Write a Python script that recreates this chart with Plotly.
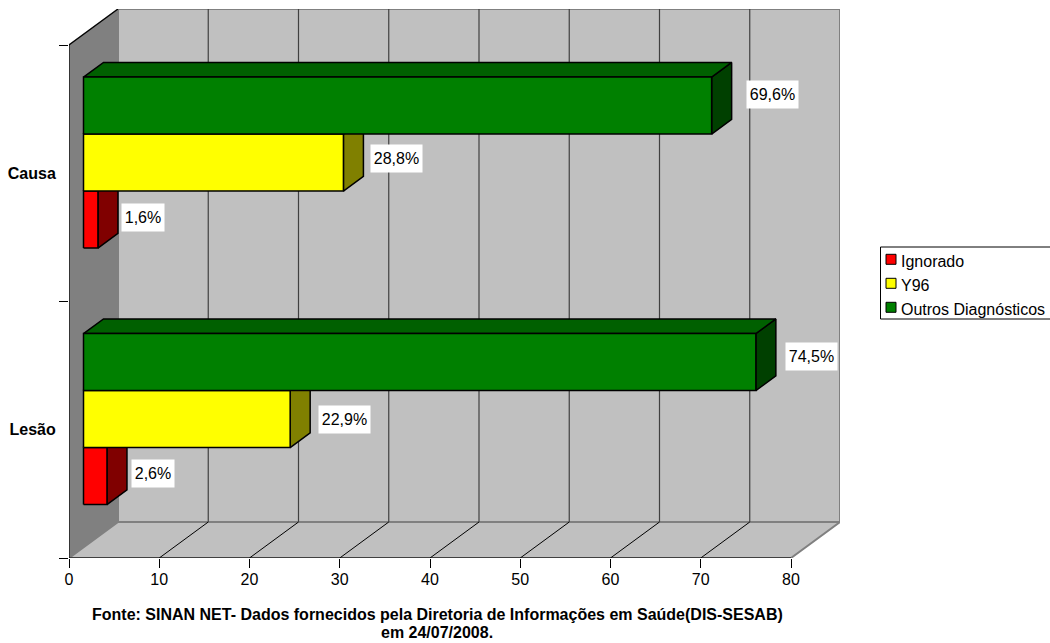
import plotly.graph_objects as go

# Chart data
categories = ["Lesão", "Causa"]
series_names = ["Ignorado", "Y96", "Outros Diagnósticos"]
ignorado = [2.6, 1.6]
y96 = [22.9, 28.8]
outros = [74.5, 69.6]
x_ticks = [0, 10, 20, 30, 40, 50, 60, 70, 80]
footer = [
    "Fonte: SINAN NET- Dados fornecidos pela Diretoria de Informações em Saúde(DIS-SESAB)",
    "em 24/07/2008.",
]

# Face colours per series: front, side, top
face_colors = [
    ("#FF0000", "#800000", "#A00000"),
    ("#FFFF00", "#808000", "#A0A000"),
    ("#008000", "#004000", "#006000"),
]

# Canvas and plot geometry
WIDTH, HEIGHT = 1050, 643
LEFT, RIGHT, TOP, BOTTOM = 69, 840, 9, 558
PX_X = 9.025    # pixels per x unit
PX_Y = 256.5    # pixels per category
DEPTH_X = (RIGHT - LEFT) / PX_X - 80
DEPTH_Y = (BOTTOM - TOP) / PX_Y - 2
BAR_DEPTH = 20 / 49
BAR_GAP = (1 - BAR_DEPTH) / 2
BAR_H = (2 / 3) / 3

# Per-label placement: pixel gap from the bar end, upward nudge from the bar centre
label_gap = [[25, 24], [29, 28], [30, 35]]
label_lift = [[2.5, 2.5], [0, 4.5], [5.5, 11]]

WALL = "#C0C0C0"
SIDE_WALL = "#808080"
EDGE = "#808080"
GRID = "#404040"

fig = go.Figure()


def polygon(xs, ys, fill, line="#000000", width=1.5):
    fig.add_trace(go.Scatter(
        x=list(xs) + [xs[0]], y=list(ys) + [ys[0]], mode="lines", fill="toself",
        fillcolor=fill, line=dict(color=line, width=width),
        hoverinfo="skip", showlegend=False, cliponaxis=False,
    ))


def segment(xs, ys, color, width=1.0):
    fig.add_trace(go.Scatter(
        x=xs, y=ys, mode="lines", line=dict(color=color, width=width),
        hoverinfo="skip", showlegend=False, cliponaxis=False,
    ))


# Walls and floor of the 3D box
polygon([DEPTH_X, 80 + DEPTH_X, 80 + DEPTH_X, DEPTH_X],
        [DEPTH_Y, DEPTH_Y, 2 + DEPTH_Y, 2 + DEPTH_Y], WALL, EDGE, 2)
polygon([0, DEPTH_X, DEPTH_X, 0], [0, DEPTH_Y, 2 + DEPTH_Y, 2], SIDE_WALL, EDGE, 1.5)
polygon([0, 80, 80 + DEPTH_X, DEPTH_X], [0, 0, DEPTH_Y, DEPTH_Y], WALL, EDGE, 2)

# Grid lines: across the floor, then up the back wall
for tick in x_ticks[1:-1]:
    segment([tick, tick + DEPTH_X], [0, DEPTH_Y], "#000000", 1)
    segment([tick + DEPTH_X, tick + DEPTH_X], [DEPTH_Y, 2 + DEPTH_Y], GRID, 1.2)

# Front axis lines and the upper edge of the side wall
segment([0, 0], [0, 2], "#000000", 1.2)
segment([0, 80], [0, 0], "#000000", 1.2)
segment([0, DEPTH_X], [2, 2 + DEPTH_Y], "#000000", 1.2)

# Bars, painted bottom to top so that each front hides the side below it
all_values = [ignorado, y96, outros]
for c in range(len(categories)):
    for s, values in enumerate(all_values):
        front, side, top = face_colors[s]
        x0 = BAR_GAP * DEPTH_X
        x1 = x0 + values[c]
        y0 = c + 1 / 6 + s * BAR_H + BAR_GAP * DEPTH_Y
        y1 = y0 + BAR_H
        dx = BAR_DEPTH * DEPTH_X
        dy = BAR_DEPTH * DEPTH_Y
        polygon([x1, x1 + dx, x1 + dx, x1], [y0, y0 + dy, y1 + dy, y1], side)
        polygon([x0, x1, x1 + dx, x0 + dx], [y1, y1, y1 + dy, y1 + dy], top)
        polygon([x0, x1, x1, x0], [y0, y0, y1, y1], front)

annotations = []

# Value labels on white boxes
for c in range(len(categories)):
    for s, values in enumerate(all_values):
        text = f"{values[c]:.1f}".replace(".", ",") + "%"
        box_w = 51 if len(text) == 5 else 42
        x1 = BAR_GAP * DEPTH_X + values[c]
        yc = c + 1 / 6 + (s + 0.5) * BAR_H + BAR_GAP * DEPTH_Y
        annotations.append(dict(
            x=x1 + (label_gap[s][c] + box_w / 2) / PX_X,
            y=yc + label_lift[s][c] / PX_Y,
            xref="x", yref="y", text=text, showarrow=False,
            font=dict(family="Liberation Sans", size=16, color="#000000"),
            bgcolor="#FFFFFF", width=box_w, height=27, borderpad=0, align="center",
        ))


def paper_x(px):
    return (px - LEFT) / (RIGHT - LEFT)


def paper_y(px):
    return (BOTTOM - px) / (BOTTOM - TOP)


# Footer source note
for line, py in zip(footer, [614, 632]):
    annotations.append(dict(
        x=paper_x(437), y=paper_y(py), xref="paper", yref="paper", text=f"<b>{line}</b>",
        showarrow=False, xanchor="center", yanchor="middle",
        font=dict(family="Liberation Sans", size=16, color="#000000"),
    ))

# Legend box, running off the right edge of the canvas
shapes = [dict(
    type="rect", xref="paper", yref="paper", x0=paper_x(880.5), x1=paper_x(1056),
    y0=paper_y(247), y1=paper_y(319), line=dict(color="#000000", width=1),
    fillcolor="#FFFFFF",
)]
for name, colors, py in zip(series_names, face_colors, [259.3, 283.3, 307.3]):
    shapes.append(dict(
        type="rect", xref="paper", yref="paper", x0=paper_x(886), x1=paper_x(896),
        y0=paper_y(py - 5), y1=paper_y(py + 5), line=dict(color="#000000", width=1),
        fillcolor=colors[0],
    ))
    annotations.append(dict(
        x=paper_x(900), y=paper_y(py + 2), xref="paper", yref="paper", text=name,
        showarrow=False, xanchor="left", yanchor="middle", xshift=-1,
        font=dict(family="Liberation Sans", size=16, color="#000000"),
    ))

fig.update_layout(
    width=WIDTH, height=HEIGHT, autosize=False,
    margin=dict(l=LEFT, r=WIDTH - RIGHT, t=TOP, b=HEIGHT - BOTTOM, pad=0),
    paper_bgcolor="#FFFFFF", plot_bgcolor="#FFFFFF", showlegend=False,
    annotations=annotations, shapes=shapes,
    font=dict(family="Liberation Sans", size=16, color="#000000"),
    xaxis=dict(
        range=[0, 80 + DEPTH_X], tickmode="array", tickvals=x_ticks,
        ticktext=[str(t) for t in x_ticks], ticks="outside", ticklen=9, tickwidth=1,
        tickcolor="#000000", showgrid=False, zeroline=False, showline=False,
        ticklabelstandoff=-2, automargin=False,
        tickfont=dict(family="Liberation Sans", size=16, color="#000000"),
    ),
    yaxis=dict(
        range=[0, 2 + DEPTH_Y], tickmode="array", tickvals=[0.5, 1.5],
        ticktext=[f"<b>{c}</b>" for c in categories], ticks="outside", ticklen=9,
        tickcolor="rgba(0,0,0,0)", showgrid=False, zeroline=False, showline=False,
        automargin=False,
        tickfont=dict(family="Liberation Sans", size=16, color="#000000"),
        minor=dict(tickmode="array", tickvals=[0, 1, 2], ticks="outside", ticklen=9,
                   tickwidth=1, tickcolor="#000000", showgrid=False),
    ),
)

fig.write_html("out.html", config=dict(displayModeBar=False))
